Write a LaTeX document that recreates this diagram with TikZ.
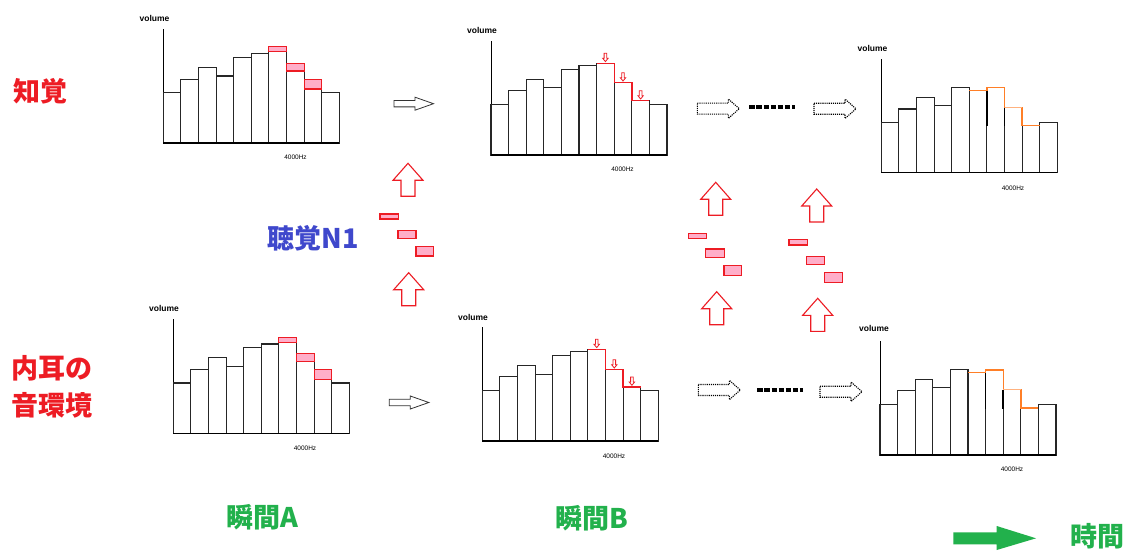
\documentclass[tikz,border=0pt]{standalone}
\usepackage{fontspec}
\setmainfont{Liberation Sans}
\newfontfamily\jp{Noto Sans CJK JP}
\definecolor{jred}{HTML}{ED1C24}
\definecolor{jblue}{HTML}{3F48CC}
\definecolor{jgreen}{HTML}{22B14C}
\definecolor{pinkfill}{HTML}{FFAEC9}
\definecolor{orng}{HTML}{FF7F27}
\definecolor{lorng}{HTML}{FFB27F}

\tikzset{
  axisln/.style={draw=black, line width=0.9pt},
  barln/.style={draw=black!85, line width=1.1pt},
  baseln/.style={draw=black, line width=1.6pt},
  pinkbox/.style={draw=jred, fill=pinkfill, line width=1.1pt},
  redstepln/.style={draw=jred, line width=1.4pt},
  smalldown/.style={draw=jred, fill=white, line width=0.8pt},
  orangeln/.style={draw=orng, line width=1.4pt},
  lorangeln/.style={draw=lorng, line width=1.4pt},
  darkedge/.style={draw=black, line width=1.6pt},
  hollowarrow/.style={draw=black!80, fill=white, line width=0.8pt},
  dotarrow/.style={draw=black, line width=1.1pt, dash pattern=on 1.1pt off 1pt},
  dashbar/.style={draw=black, line width=3.6pt, dash pattern=on 5.3pt off 1.8pt},
  redup/.style={draw=jred, fill=white, line width=1.1pt, line join=miter},
  greenarrow/.style={fill=jgreen},
  vollabel/.style={font=\bfseries\fontsize{8.5}{9}\selectfont, inner sep=0pt},
  hzlabel/.style={font=\fontsize{6.5}{7}\selectfont, inner sep=0pt},
  jplabel/.style={font=\jp\bfseries\fontsize{27}{37}\selectfont, inner sep=0pt}
}

% bar chart: x of axis, baseline y, axis height, bar heights
\newcommand\histo[4]{%
  \draw[axisln] (#1,#2) -- ++(0,-#3);
  \foreach \h [count=\i from 0] in {#4}
    \draw[barln] ({#1+\i*17.6},#2) rectangle ++(17.6,-\h);
  \draw[baseln] (#1,#2) -- ++(176,0);
}
% pink loss box on top of bar #3 (index from 0), bar height #4, box height #5
\newcommand\lossbox[5]{%
  \draw[pinkbox] ({#1+#3*17.6},{#2-#4}) rectangle ++(17.6,-#5);
}
% small hollow down arrow with tip at (#1,#2)
\newcommand\smalldownarrow[2]{%
  \draw[smalldown] ({#1-1.3},{#2-8.3}) -- ({#1+1.3},{#2-8.3}) -- ({#1+1.3},{#2-3.3})
    -- ({#1+2.7},{#2-3.3}) -- (#1,#2) -- ({#1-2.7},{#2-3.3}) -- ({#1-1.3},{#2-3.3}) -- cycle;
}
% lowered tops of bars 7 to 9, drawn in red with arrows
\newcommand\redstep[5]{%
  \draw[redstepln] ({#1+6*17.6},{#2-#3}) -- ({#1+7*17.6},{#2-#3}) -- ({#1+7*17.6},{#2-#4})
    -- ({#1+8*17.6},{#2-#4}) -- ({#1+8*17.6},{#2-#5}) -- ({#1+9*17.6},{#2-#5});
  \smalldownarrow{#1+6.5*17.6}{#2-#3-1.7}
  \smalldownarrow{#1+7.5*17.6}{#2-#4-1.7}
  \smalldownarrow{#1+8.5*17.6}{#2-#5-1.7}
}
% perceived tops of bars 6 to 9 in orange
\newcommand\percept[6]{%
  \draw[darkedge] ({#1+6*17.6},{#2-#3}) -- ({#1+6*17.6},{#2-46.5});
  \draw[darkedge] ({#1+7*17.6},{#2-#5}) -- ({#1+7*17.6},{#2-46.5});
  \draw[orangeln] ({#1+5*17.6},{#2-#3}) -- ({#1+6*17.6},{#2-#3}) -- ({#1+6*17.6},{#2-#4})
    -- ({#1+7*17.6},{#2-#4}) -- ({#1+7*17.6},{#2-#5}) -- ({#1+8*17.6},{#2-#5})
    -- ({#1+8*17.6},{#2-#6}) -- ({#1+9*17.6},{#2-#6});
  \draw[lorangeln] ({#1+7*17.6},{#2-#5}) -- ({#1+8*17.6},{#2-#5});
}
\newcommand\hollowright[2]{%
  \draw[hollowarrow] (#1,{#2-3.2}) -- ({#1+21},{#2-3.2}) -- ({#1+21},{#2-6.5}) -- ({#1+39.5},#2)
    -- ({#1+21},{#2+6.5}) -- ({#1+21},{#2+3.2}) -- (#1,{#2+3.2}) -- cycle;
}
\newcommand\dottedright[2]{%
  \draw[dotarrow] (#1,{#2-5.5}) -- ({#1+31},{#2-5.5}) -- ({#1+31},{#2-9.7}) -- ({#1+42},#2)
    -- ({#1+31},{#2+9.7}) -- ({#1+31},{#2+5.5}) -- (#1,{#2+5.5}) -- cycle;
}
\newcommand\redupblock[2]{%
  \draw[redup] (#1,#2) -- ({#1+15},{#2+17}) -- ({#1+7},{#2+17}) -- ({#1+7},{#2+33})
    -- ({#1-7},{#2+33}) -- ({#1-7},{#2+17}) -- ({#1-15},{#2+17}) -- cycle;
}

\begin{document}
\begin{tikzpicture}[x=1pt,y=-1pt]
\useasboundingbox (0,0) rectangle (1126,553);
\fill[white] (0,0) rectangle (1126,553);

% ---- row labels ----
\node[jplabel, text=jred] (perception) at (40,91) {知覚};
\node[jplabel, text=jred, align=left] (innerear) at (52.5,387) {内耳の\\音環境};
\node[jplabel, text=jblue] (n1) at (313.5,238) {聴覚N1};
\node[jplabel, text=jgreen] (momentA) at (262,517.5) {瞬間A};
\node[jplabel, text=jgreen] (momentB) at (592,518.5) {瞬間B};
\node[jplabel, text=jgreen] (timelabel) at (1097,536.5) {時間};

% ---- perception at moment A ----
\histo{163.3}{143.3}{114}{51,64,76,67.3,86,90,91.7,72.3,54.3,51}
\lossbox{163.3}{143.3}{6}{91.7}{4.7}
\lossbox{163.3}{143.3}{7}{72.3}{7.7}
\lossbox{163.3}{143.3}{8}{54.3}{9.7}
\node[vollabel] (volA) at (154.5,18) {volume};
\node[hzlabel] (hzA) at (295.5,157) {4000Hz};

% ---- inner ear at moment A ----
\histo{173.3}{433.3}{114.3}{50.3,63.7,76,67,85.7,89.3,90.7,71.7,53.7,50.3}
\lossbox{173.3}{433.3}{6}{90.7}{5.3}
\lossbox{173.3}{433.3}{7}{71.7}{7.7}
\lossbox{173.3}{433.3}{8}{53.7}{9.7}
\node[vollabel] (volC) at (164,308) {volume};
\node[hzlabel] (hzC) at (305,448) {4000Hz};

% ---- perception at moment B ----
\histo{491}{155}{114.3}{50.7,64.3,75.7,67.3,85.7,89.3,91.7,72.3,54.3,50.7}
\redstep{491}{155}{91.7}{72.3}{54.3}
\node[vollabel] (volB) at (482,30) {volume};
\node[hzlabel] (hzB) at (622.5,169) {4000Hz};

% ---- inner ear at moment B ----
\histo{482.3}{441}{114.3}{50.7,64.3,75.7,66.7,85.3,89.3,91.7,71.3,54,50.7}
\redstep{482.3}{441}{91.7}{71.3}{54}
\node[vollabel] (volD) at (473,317) {volume};
\node[hzlabel] (hzD) at (614,456) {4000Hz};

% ---- perception later ----
\histo{881.3}{172.7}{113.7}{50.3,63.7,75.3,67,85.3,82,85,65,47,50.3}
\percept{881.3}{172.7}{82}{85}{65}{47}
\node[vollabel] (volE) at (872.5,48) {volume};
\node[hzlabel] (hzE) at (1013,188) {4000Hz};

% ---- inner ear later ----
\histo{880}{455}{114.3}{50.7,64.3,75.7,67.3,85.7,82.3,85,65.3,47,50.7}
\percept{880}{455}{82.3}{85}{65.3}{47}
\node[vollabel] (volF) at (874,328) {volume};
\node[hzlabel] (hzF) at (1012,469) {4000Hz};

% ---- time steps ----
\hollowright{394}{103.7}
\hollowright{389.3}{402.5}
\dottedright{697.3}{108.7}
\dottedright{814}{108.8}
\dottedright{698.3}{390}
\dottedright{820}{391.7}
\coordinate (dashA1) at (749.3,107.3);
\coordinate (dashA2) at (795,107.3);
\coordinate (dashB1) at (757.3,390);
\coordinate (dashB2) at (802.7,390);
\draw[dashbar] (dashA1) -- (dashA2);
\draw[dashbar] (dashB1) -- (dashB2);

% ---- auditory N1: upward arrows and loss boxes ----
\redupblock{408}{163.3}
\redupblock{408.7}{272.7}
\redupblock{715.7}{182.3}
\redupblock{716.7}{291.7}
\redupblock{816.7}{189}
\redupblock{817.7}{298.3}
\draw[pinkbox] (380,214) rectangle (398.7,219);
\draw[pinkbox] (398,230.3) rectangle (416,238.7);
\draw[pinkbox] (416,246.7) rectangle (433.7,256);
\draw[pinkbox] (688.3,233.3) rectangle (706.7,238.3);
\draw[pinkbox] (705.7,249) rectangle (724.3,257.7);
\draw[pinkbox] (724,265.7) rectangle (741.7,275.7);
\draw[pinkbox] (789,239.3) rectangle (807.3,245);
\draw[pinkbox] (806.7,256.3) rectangle (824.7,264.3);
\draw[pinkbox] (824.3,272.3) rectangle (842.3,282.3);

% ---- time axis arrow ----
\fill[greenarrow] (953.3,532.3) -- (996.7,532.3) -- (996.7,526) -- (1036,538.3)
  -- (996.7,550) -- (996.7,544.3) -- (953.3,544.3) -- cycle;
\end{tikzpicture}
\end{document}
